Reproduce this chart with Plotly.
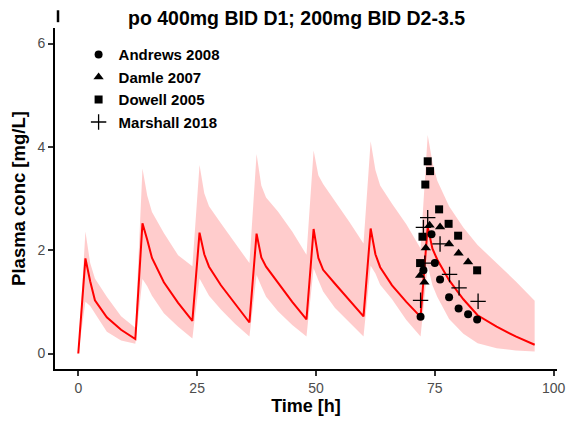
import plotly.graph_objects as go

# ---- simulated median and 5-95% band ----
sim_time = [0, 1.5, 2.5, 3.5, 6, 9, 12,
            13.5, 14.5, 15.5, 18, 21, 24,
            25.5, 26.5, 27.5, 30, 33, 36,
            37.5, 38.5, 39.5, 42, 45, 48,
            49.5, 50.5, 51.5, 54, 57, 60,
            61.5, 62.5, 63.5, 66, 69, 72,
            73.5, 74.5, 75.5, 78, 81, 84, 88, 92, 96]
sim_median = [0, 1.84, 1.40, 1.03, 0.70, 0.46, 0.28,
              2.52, 2.20, 1.85, 1.38, 0.98, 0.63,
              2.34, 1.92, 1.68, 1.32, 0.95, 0.60,
              2.32, 1.86, 1.68, 1.36, 1.00, 0.66,
              2.41, 1.85, 1.62, 1.35, 1.03, 0.72,
              2.42, 1.92, 1.67, 1.32, 1.00, 0.71,
              2.45, 2.03, 1.82, 1.42, 1.05, 0.74, 0.52, 0.33, 0.17]
sim_upper = [0, 2.36, 1.75, 1.45, 1.10, 0.72, 0.50,
             3.58, 3.06, 2.74, 2.33, 1.90, 1.69,
             3.65, 3.10, 2.85, 2.52, 2.14, 1.75,
             3.86, 3.25, 3.02, 2.75, 2.36, 1.91,
             3.93, 3.45, 3.28, 2.95, 2.55, 2.13,
             4.11, 3.55, 3.25, 2.90, 2.50, 2.03,
             4.23, 3.70, 3.35, 2.85, 2.44, 2.10, 1.75, 1.40, 1.02]
sim_lower = [0, 1.00, 0.92, 0.78, 0.42, 0.25, 0.19,
             1.44, 1.30, 1.12, 0.78, 0.52, 0.29,
             1.45, 1.28, 1.12, 0.85, 0.57, 0.33,
             1.52, 1.30, 1.10, 0.82, 0.55, 0.33,
             1.65, 1.42, 1.20, 0.88, 0.60, 0.33,
             1.70, 1.55, 1.33, 1.05, 0.65, 0.33,
             1.70, 1.32, 1.10, 0.67, 0.38, 0.20, 0.10, 0.06, 0.04]

# ---- observed data ----
andrews_t = [72.0, 72.6, 74.3, 75.0, 76.1, 78.0, 80.0, 82.0, 83.9]
andrews_c = [0.71, 1.61, 2.31, 1.75, 1.43, 1.09, 0.87, 0.76, 0.66]
damle_t = [71.9, 72.8, 73.1, 73.9, 76.1, 78.0, 80.0, 82.0]
damle_c = [1.51, 1.38, 2.04, 2.48, 2.45, 2.12, 1.94, 1.77]
dowell_t = [71.9, 72.4, 73.0, 73.5, 74.0, 75.9, 77.9, 79.9, 83.9]
dowell_c = [1.75, 2.26, 3.27, 3.72, 3.53, 2.79, 2.51, 2.28, 1.61]
marshall_t = [72.0, 72.9, 72.6, 73.5, 76.1, 78.1, 80.1, 84.1]
marshall_c = [1.03, 1.75, 2.44, 2.63, 2.12, 1.53, 1.27, 1.01]

x_ticks = [0, 25, 50, 75, 100]
y_ticks = [0, 2, 4, 6]

title_text = "po 400mg BID D1; 200mg BID D2-3.5"
x_title = "Time [h]"
y_title = "Plasma conc [mg/L]"

FONT = "Liberation Sans, Arial, sans-serif"

fig = go.Figure()

fig.add_trace(go.Scatter(x=sim_time, y=sim_upper, mode="lines",
                         line=dict(width=0, color="rgba(255,0,0,0)"),
                         showlegend=False, hoverinfo="skip"))
fig.add_trace(go.Scatter(x=sim_time, y=sim_lower, mode="lines",
                         line=dict(width=0, color="rgba(255,0,0,0)"),
                         fill="tonexty", fillcolor="rgba(255,0,0,0.2)",
                         showlegend=False, hoverinfo="skip"))
fig.add_trace(go.Scatter(x=sim_time, y=sim_median, mode="lines",
                         line=dict(width=2, color="#FF0000"),
                         showlegend=False))

obs = [
    ("Andrews 2008", andrews_t, andrews_c, "circle", 8),
    ("Damle 2007", damle_t, damle_c, "triangle-up", 9),
    ("Dowell 2005", dowell_t, dowell_c, "square", 8),
    ("Marshall 2018", marshall_t, marshall_c, "cross-thin", 11),
]
for i, (name, t, c, sym, sz) in enumerate(obs):
    fig.add_trace(go.Scatter(
        x=t, y=c, mode="markers", name=f"<b>{name}</b>", legendgroup=f"g{i}",
        marker=dict(symbol=sym, size=sz, color="black",
                    line=dict(color="black", width=1.3 if sym == "cross-thin" else 0)),
    ))

fig.update_layout(
    width=578, height=425,
    margin=dict(l=55, r=17, t=28, b=53),
    paper_bgcolor="white", plot_bgcolor="white",
    font=dict(family=FONT, color="black"),
    title=dict(text=f"<b>{title_text}</b>", x=0.513, xref="container", xanchor="center",
               y=1 - 18 / 425, yanchor="middle", font=dict(size=19.5, color="black")),
    legend=dict(x=0.047, y=0.97, xanchor="left", yanchor="top",
                bgcolor="rgba(0,0,0,0)", font=dict(size=15, color="black", family=FONT),
                traceorder="grouped", tracegroupgap=0, itemwidth=30),
    showlegend=True,
)
fig.update_xaxes(range=[-4.9, 100.7], tickvals=x_ticks, showgrid=False, zeroline=False,
                 showline=True, linecolor="black", linewidth=2,
                 ticks="outside", ticklen=5, tickwidth=1.5, tickcolor="#333333",
                 tickfont=dict(size=14, color="#4D4D4D", family=FONT),
                 tickprefix="<b>", ticksuffix="</b>",
                 title=dict(text=f"<b>{x_title}</b>", font=dict(size=18, color="black"), standoff=5))
fig.update_yaxes(range=[-0.3, 6.3], tickvals=y_ticks, showgrid=False, zeroline=False,
                 showline=True, linecolor="black", linewidth=2,
                 ticks="outside", ticklen=5, tickwidth=1.5, tickcolor="#333333",
                 tickfont=dict(size=14, color="#4D4D4D", family=FONT),
                 tickprefix="<b>", ticksuffix="</b>",
                 title=dict(text=f"<b>{y_title}</b>", font=dict(size=18.5, color="black"), standoff=7))

fig.add_shape(type="line", xref="paper", yref="paper", x0=0.006, x1=0.006,
              y0=1.017, y1=1.052, line=dict(color="black", width=2.5))

fig.write_html("out.html")
